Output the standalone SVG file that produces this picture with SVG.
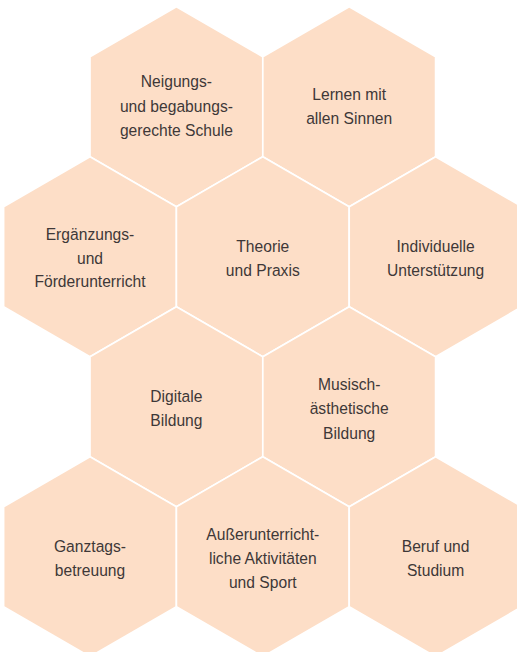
<svg xmlns="http://www.w3.org/2000/svg" width="517" height="652" viewBox="0 0 517 652">
<defs>
<polygon id="hex" points="0,-100 86.4,-50 86.4,50 0,100 -86.4,50 -86.4,-50"/>
</defs>
<style>
.hx{fill:#FDDEC7;stroke:#FFFFFF;stroke-width:1.7;stroke-linejoin:miter}
.t{font-family:"Liberation Sans",Arial,sans-serif;font-size:17px;fill:#3E3838;text-anchor:middle}
</style>
<rect width="517" height="652" fill="#FFFFFF"/>
<g id="n1"><use href="#hex" class="hx" x="176.4" y="106.7"/>
<text class="t" transform="translate(176.4 0) scale(0.92 1)"><tspan x="0" y="87.3">Neigungs-</tspan><tspan x="0" y="112">und begabungs-</tspan><tspan x="0" y="136.5">gerechte Schule</tspan></text></g>
<g id="n2"><use href="#hex" class="hx" x="349.2" y="106.7"/>
<text class="t" transform="translate(349.2 0) scale(0.92 1)"><tspan x="0" y="100">Lernen mit</tspan><tspan x="0" y="124.3">allen Sinnen</tspan></text></g>
<g id="n3"><use href="#hex" class="hx" x="90" y="256.7"/>
<text class="t" transform="translate(90 0) scale(0.92 1)"><tspan x="0" y="240">Ergänzungs-</tspan><tspan x="0" y="264">und</tspan><tspan x="0" y="287.5">Förderunterricht</tspan></text></g>
<g id="n4"><use href="#hex" class="hx" x="262.8" y="256.7"/>
<text class="t" transform="translate(262.8 0) scale(0.92 1)"><tspan x="0" y="251.7">Theorie</tspan><tspan x="0" y="275.8">und Praxis</tspan></text></g>
<g id="n5"><use href="#hex" class="hx" x="435.6" y="256.7"/>
<text class="t" transform="translate(435.6 0) scale(0.92 1)"><tspan x="0" y="251.7">Individuelle</tspan><tspan x="0" y="276">Unterstützung</tspan></text></g>
<g id="n6"><use href="#hex" class="hx" x="176.4" y="406.7"/>
<text class="t" transform="translate(176.4 0) scale(0.92 1)"><tspan x="0" y="401.6">Digitale</tspan><tspan x="0" y="425.8">Bildung</tspan></text></g>
<g id="n7"><use href="#hex" class="hx" x="349.2" y="406.7"/>
<text class="t" transform="translate(349.2 0) scale(0.92 1)"><tspan x="0" y="390">Musisch-</tspan><tspan x="0" y="414.5">ästhetische</tspan><tspan x="0" y="439">Bildung</tspan></text></g>
<g id="n8"><use href="#hex" class="hx" x="90" y="556.7"/>
<text class="t" transform="translate(90 0) scale(0.92 1)"><tspan x="0" y="551.7">Ganztags-</tspan><tspan x="0" y="575.8">betreuung</tspan></text></g>
<g id="n9"><use href="#hex" class="hx" x="262.8" y="556.7"/>
<text class="t" transform="translate(262.8 0) scale(0.92 1)"><tspan x="0" y="540">Außerunterricht-</tspan><tspan x="0" y="564">liche Aktivitäten</tspan><tspan x="0" y="588">und Sport</tspan></text></g>
<g id="n10"><use href="#hex" class="hx" x="435.6" y="556.7"/>
<text class="t" transform="translate(435.6 0) scale(0.92 1)"><tspan x="0" y="551.7">Beruf und</tspan><tspan x="0" y="575.8">Studium</tspan></text></g>
<g id="connectors"/>
</svg>
